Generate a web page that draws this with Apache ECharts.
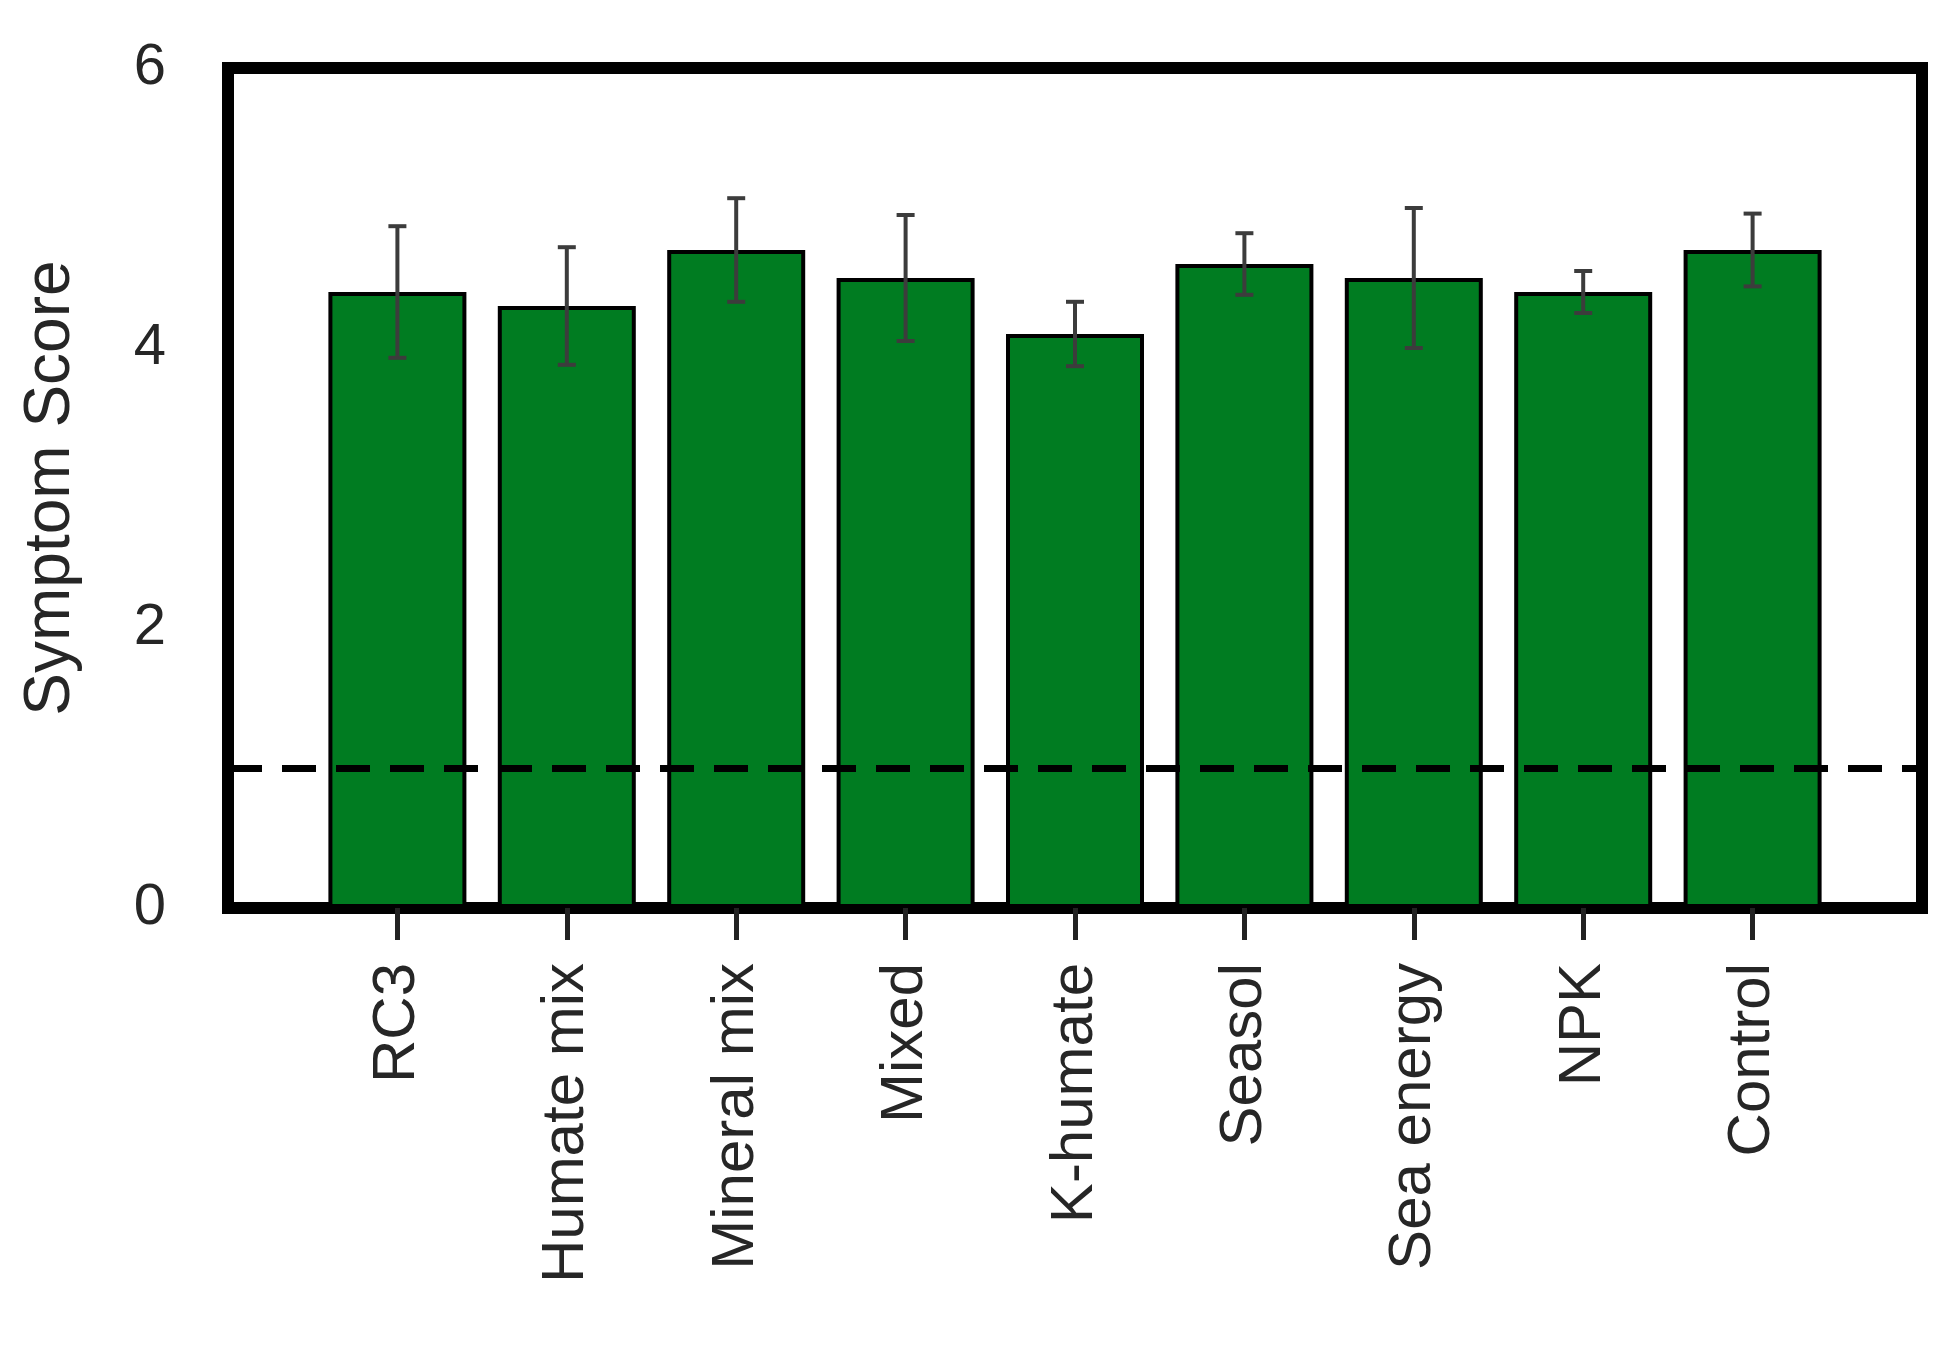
<!DOCTYPE html>
<html><head><meta charset="utf-8">
<script src="https://cdn.jsdelivr.net/npm/echarts@6/dist/echarts.min.js"></script>
<style>html,body{margin:0;padding:0;background:#fff}#c{width:1953px;height:1346px}</style>
</head><body><div id="c"></div>
<script>
const categories = ['RC3','Humate mix','Mineral mix','Mixed','K-humate','Seasol','Sea energy','NPK','Control'];
const means = [4.4,4.3,4.7,4.5,4.1,4.6,4.5,4.4,4.7];
const errors = [0.47,0.42,0.37,0.45,0.23,0.22,0.5,0.15,0.26];
const threshold = 1;
const yTicks = [0,2,4,6];

const axisCats = [''].concat(categories, ['']);
const barData = ['-'].concat(means, ['-']);
const errData = categories.map((c,i)=>[i+1, means[i]-errors[i], means[i]+errors[i]]);

const chart = echarts.init(document.getElementById('c'));
chart.setOption({
  animation:false,
  grid:{left:228,right:31,top:68,bottom:438,show:true,borderColor:'#000',borderWidth:12,backgroundColor:'transparent'},
  xAxis:{type:'category',data:axisCats,boundaryGap:false,
    axisLine:{show:false},
    axisTick:{show:true,inside:false,length:32,lineStyle:{color:'#222',width:5},interval:(i,v)=>v!==''},
    axisLabel:{rotate:90,fontSize:60,color:'#262626',fontFamily:'Liberation Sans, Arial',margin:55,interval:0},
    splitLine:{show:false}},
  yAxis:{type:'value',min:0,max:6,interval:2,
    name:'Symptom Score',nameLocation:'middle',nameGap:145,
    nameTextStyle:{fontSize:64,color:'#262626',fontFamily:'Liberation Sans, Arial'},
    axisLine:{show:false},axisTick:{show:false},splitLine:{show:false},
    axisLabel:{fontSize:58,color:'#262626',fontFamily:'Liberation Sans, Arial',margin:62,
      formatter:v=>yTicks.includes(v)?String(v):''}},
  series:[
    {type:'bar',data:barData,barWidth:138,z:2,
      itemStyle:{color:'#007c21',borderColor:'#000',borderWidth:4},
      markLine:{symbol:'none',silent:true,label:{show:false},
        lineStyle:{color:'#000',type:[34,20],width:7},
        data:[{yAxis:threshold}]}},
    {type:'custom',z:3,data:errData,
      renderItem:(params,api)=>{
        const x=api.value(0);
        const lo=api.coord([x,api.value(1)]);
        const hi=api.coord([x,api.value(2)]);
        const w=9;
        const st={stroke:'#3c3c3c',lineWidth:4};
        return {type:'group',children:[
          {type:'line',shape:{x1:lo[0],y1:lo[1],x2:hi[0],y2:hi[1]},style:st},
          {type:'line',shape:{x1:lo[0]-w,y1:lo[1],x2:lo[0]+w,y2:lo[1]},style:st},
          {type:'line',shape:{x1:hi[0]-w,y1:hi[1],x2:hi[0]+w,y2:hi[1]},style:st}
        ]};
      }}
  ]
});
</script></body></html>
